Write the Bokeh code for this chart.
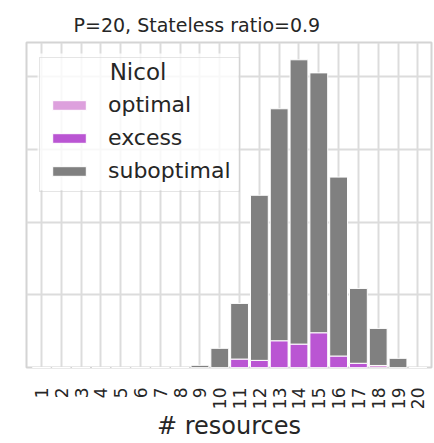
import math
from bokeh.plotting import figure
from bokeh.models import (Legend, LegendItem, Label, FixedTicker, Range1d,
                          ColumnDataSource, BoxAnnotation)
from bokeh.embed import file_html
from bokeh.resources import INLINE

# ---- data (fractions of runs) ----
resources = list(range(1, 21))
tick_labels = [str(r) for r in resources]
optimal = [0, 0, 0, 0, 0, 0, 0, 0, 0, 0,
           0, 0, 0, 0, 0, 0, 0, 0.0014, 0, 0]
excess = [0, 0, 0, 0, 0, 0, 0, 0, 0, 0,
          0.0058, 0.0049, 0.0184, 0.0161, 0.0239, 0.0079, 0.0029, 0, 0, 0]
suboptimal = [0, 0, 0, 0, 0, 0, 0, 0, 0.0015, 0.0132,
              0.0383, 0.1136, 0.1596, 0.1956, 0.1788, 0.1231, 0.0515, 0.0255, 0.0063, 0]
series = ["optimal", "excess", "suboptimal"]
colors = ["#DDA0DD", "#BA55D3", "#808080"]
y_grid = [0.0, 0.05, 0.10, 0.15, 0.20]
title_text = "P=20, Stateless ratio=0.9"
legend_title = "Nicol"
x_label = "# resources"

FONT = "DejaVu Sans"
TXT = "#262626"
X0, X1 = 0.243, 20.69
Y0, Y1 = 0.0, 0.2236
PX = (Y1 - Y0) / 325.5          # data units per screen pixel (vertical)
PXX = (X1 - X0) / 405.0         # data units per screen pixel (horizontal)

source = ColumnDataSource(dict(resources=resources, optimal=optimal,
                               excess=excess, suboptimal=suboptimal))

p = figure(width=434, height=443, output_backend="svg", toolbar_location=None,
           x_range=Range1d(X0, X1), y_range=Range1d(Y0, Y1),
           min_border_left=26, min_border_right=3, min_border_top=42,
           min_border_bottom=75, title=title_text)

renderers = p.vbar_stack(series, x="resources", width=0.9, source=source,
                         fill_color=colors, line_color="white", line_width=1)

# title
p.title.align = "left"
p.title.offset = 47
p.title.standoff = 14
p.title.text_font = FONT
p.title.text_font_size = "19px"
p.title.text_font_style = "normal"
p.title.text_color = TXT

# axes
p.yaxis.visible = False
p.ygrid.ticker = FixedTicker(ticks=y_grid)
p.xaxis.ticker = FixedTicker(ticks=resources)
p.xaxis.major_label_overrides = {r: t for r, t in zip(resources, tick_labels)}
p.xaxis.major_label_orientation = math.pi / 2
p.xaxis.axis_line_color = None
p.xaxis.major_tick_line_color = None
p.xaxis.minor_tick_line_color = None
p.xaxis.major_tick_out = 0
p.xaxis.major_tick_in = 0
p.xaxis.minor_tick_out = 0
p.xaxis.major_label_standoff = 20
p.xaxis.major_label_text_font = FONT
p.xaxis.major_label_text_font_size = "17px"
p.xaxis.major_label_text_color = TXT
p.xaxis.axis_label = x_label
p.xaxis.axis_label_text_font = FONT
p.xaxis.axis_label_text_font_size = "24px"
p.xaxis.axis_label_text_font_style = "normal"
p.xaxis.axis_label_text_color = TXT
p.xaxis.axis_label_standoff = 0

p.grid.grid_line_color = "#dcdcdc"
p.grid.grid_line_width = 2
p.outline_line_color = "#d4d4d4"
p.outline_line_width = 2
p.background_fill_color = "white"
p.border_fill_color = "white"

# translucent legend background (drawn beneath the legend title text)
p.add_layout(BoxAnnotation(left=X0 + 11 * PXX, right=X0 + 212 * PXX,
                           bottom=(367.5 - 190) * PX, top=(367.5 - 53) * PX,
                           fill_color="white", fill_alpha=0.8, line_color=None))

title_label = Label(x=X0 + 111.5 * PXX, y=(367.5 - 71.5) * PX, text=legend_title,
                    text_align="center", text_baseline="middle", text_font=FONT,
                    text_font_size="23px", text_color=TXT)
p.add_layout(title_label)

legend = Legend(items=[LegendItem(label=s, renderers=[r]) for s, r in zip(series, renderers)],
                location=(13, 175), title=" ",
                title_text_font=FONT, title_text_font_size="22px", title_standoff=1,
                glyph_width=42, glyph_height=12, label_standoff=18,
                padding=8, spacing=8,
                label_text_font=FONT, label_text_font_size="22px", label_text_color=TXT,
                border_line_color="#cccccc", border_line_width=1,
                background_fill_alpha=0)
p.add_layout(legend, "center")

open("out.html", "w").write(file_html(p, INLINE))
